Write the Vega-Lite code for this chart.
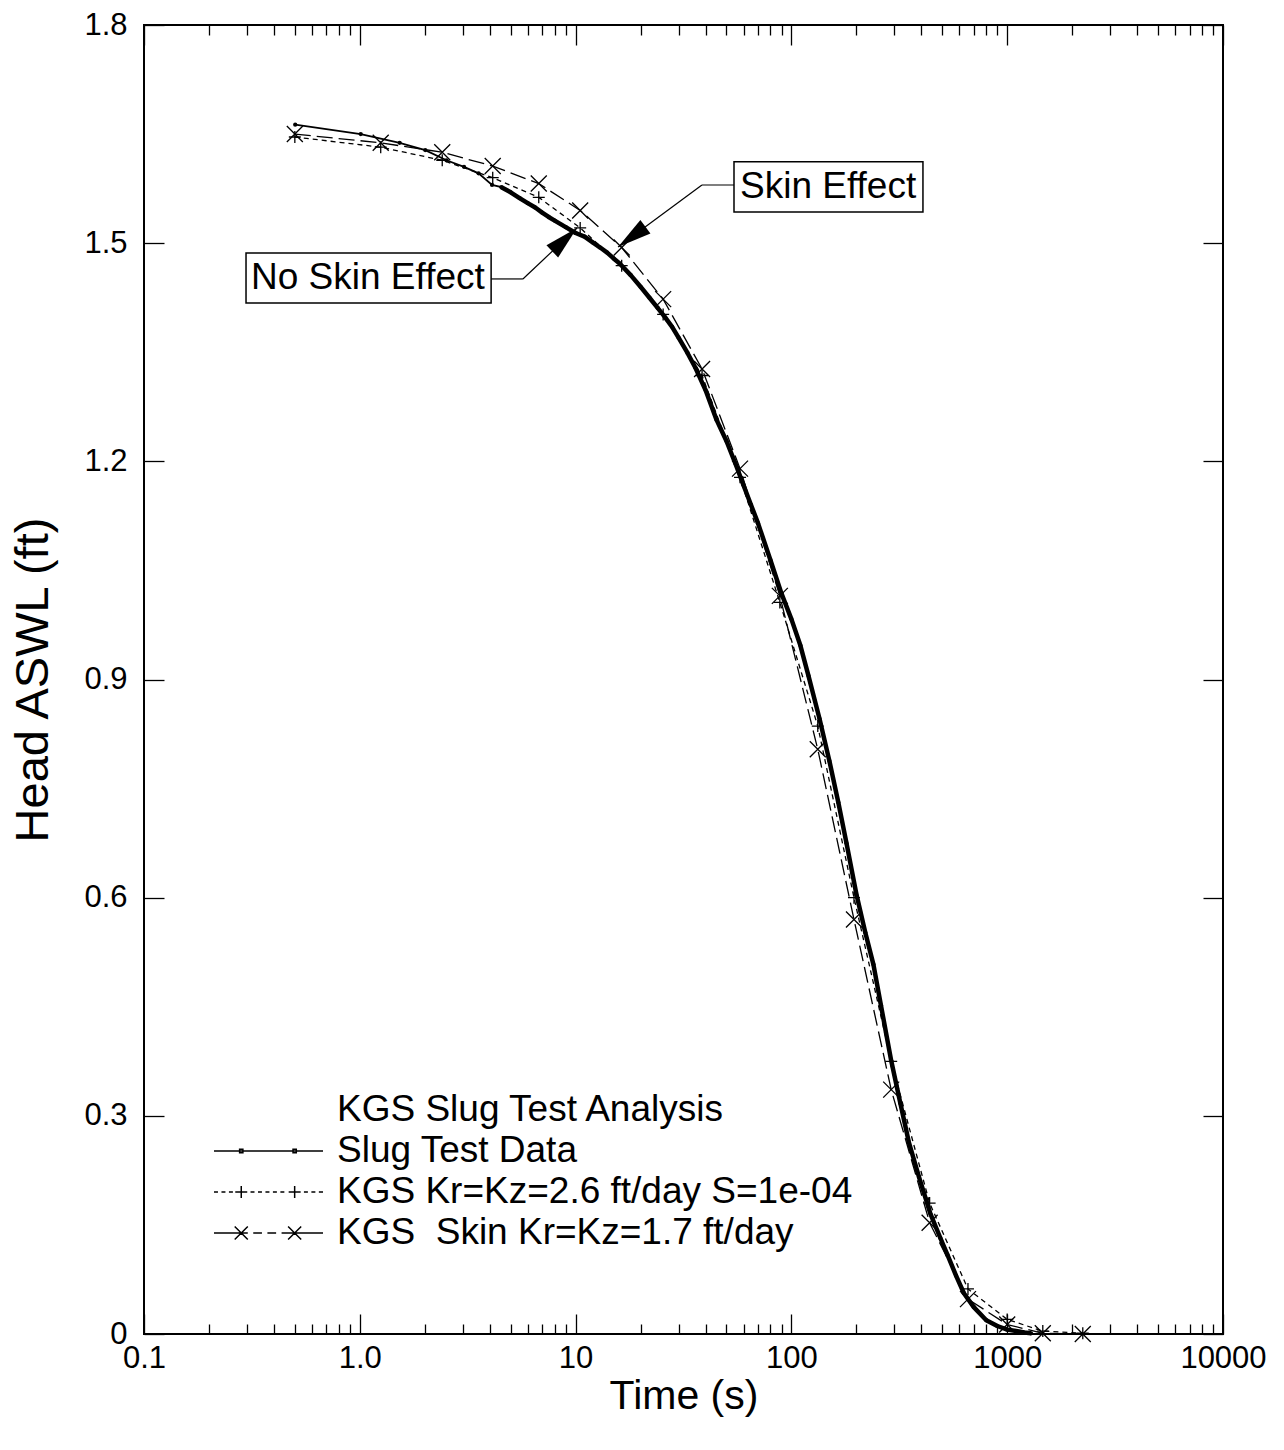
{
  "$schema": "https://vega.github.io/schema/vega-lite/v6.json",
  "width": 1079,
  "height": 1309,
  "autosize": {"type": "none"},
  "padding": {"left": 144, "top": 25, "right": 61, "bottom": 116},
  "background": "white",
  "data": {
    "values": [
      {"series": "Slug Test Data", "t": 0.502, "h": 1.663},
      {"series": "Slug Test Data", "t": 1.01, "h": 1.650},
      {"series": "Slug Test Data", "t": 1.53, "h": 1.638},
      {"series": "Slug Test Data", "t": 2.01, "h": 1.628},
      {"series": "Slug Test Data", "t": 2.52, "h": 1.614},
      {"series": "Slug Test Data", "t": 3.04, "h": 1.605},
      {"series": "Slug Test Data", "t": 3.55, "h": 1.596},
      {"series": "Slug Test Data", "t": 4.1, "h": 1.580},
      {"series": "Slug Test Data", "t": 4.53, "h": 1.577},
      {"series": "Slug Test Data", "t": 5, "h": 1.570},
      {"series": "Slug Test Data", "t": 5.5, "h": 1.562},
      {"series": "Slug Test Data", "t": 6, "h": 1.555},
      {"series": "Slug Test Data", "t": 6.5, "h": 1.549},
      {"series": "Slug Test Data", "t": 7, "h": 1.542},
      {"series": "Slug Test Data", "t": 7.5, "h": 1.536},
      {"series": "Slug Test Data", "t": 8, "h": 1.531},
      {"series": "Slug Test Data", "t": 9, "h": 1.522},
      {"series": "Slug Test Data", "t": 10, "h": 1.514},
      {"series": "Slug Test Data", "t": 11, "h": 1.509},
      {"series": "Slug Test Data", "t": 12, "h": 1.501},
      {"series": "Slug Test Data", "t": 13, "h": 1.494},
      {"series": "Slug Test Data", "t": 14, "h": 1.487},
      {"series": "Slug Test Data", "t": 15, "h": 1.479},
      {"series": "Slug Test Data", "t": 16, "h": 1.472},
      {"series": "Slug Test Data", "t": 18, "h": 1.456},
      {"series": "Slug Test Data", "t": 20, "h": 1.440},
      {"series": "Slug Test Data", "t": 22, "h": 1.425},
      {"series": "Slug Test Data", "t": 24, "h": 1.411},
      {"series": "Slug Test Data", "t": 26, "h": 1.398},
      {"series": "Slug Test Data", "t": 28, "h": 1.385},
      {"series": "Slug Test Data", "t": 30, "h": 1.370},
      {"series": "Slug Test Data", "t": 33, "h": 1.349},
      {"series": "Slug Test Data", "t": 36, "h": 1.328},
      {"series": "Slug Test Data", "t": 40, "h": 1.298},
      {"series": "Slug Test Data", "t": 45, "h": 1.257},
      {"series": "Slug Test Data", "t": 50, "h": 1.228},
      {"series": "Slug Test Data", "t": 55, "h": 1.197},
      {"series": "Slug Test Data", "t": 60, "h": 1.167},
      {"series": "Slug Test Data", "t": 65, "h": 1.140},
      {"series": "Slug Test Data", "t": 70, "h": 1.115},
      {"series": "Slug Test Data", "t": 80, "h": 1.064},
      {"series": "Slug Test Data", "t": 90, "h": 1.018},
      {"series": "Slug Test Data", "t": 100, "h": 0.983},
      {"series": "Slug Test Data", "t": 110, "h": 0.947},
      {"series": "Slug Test Data", "t": 120, "h": 0.905},
      {"series": "Slug Test Data", "t": 135, "h": 0.846},
      {"series": "Slug Test Data", "t": 150, "h": 0.788},
      {"series": "Slug Test Data", "t": 165, "h": 0.731},
      {"series": "Slug Test Data", "t": 180, "h": 0.675},
      {"series": "Slug Test Data", "t": 200, "h": 0.605},
      {"series": "Slug Test Data", "t": 220, "h": 0.552},
      {"series": "Slug Test Data", "t": 240, "h": 0.508},
      {"series": "Slug Test Data", "t": 260, "h": 0.452},
      {"series": "Slug Test Data", "t": 290, "h": 0.376},
      {"series": "Slug Test Data", "t": 320, "h": 0.317},
      {"series": "Slug Test Data", "t": 350, "h": 0.264},
      {"series": "Slug Test Data", "t": 390, "h": 0.216},
      {"series": "Slug Test Data", "t": 440, "h": 0.166},
      {"series": "Slug Test Data", "t": 490, "h": 0.132},
      {"series": "Slug Test Data", "t": 530, "h": 0.108},
      {"series": "Slug Test Data", "t": 580, "h": 0.080},
      {"series": "Slug Test Data", "t": 630, "h": 0.056},
      {"series": "Slug Test Data", "t": 700, "h": 0.037},
      {"series": "Slug Test Data", "t": 800, "h": 0.019},
      {"series": "Slug Test Data", "t": 900, "h": 0.011},
      {"series": "Slug Test Data", "t": 1000, "h": 0.006},
      {"series": "Slug Test Data", "t": 1100, "h": 0.004},
      {"series": "Slug Test Data", "t": 1200, "h": 0.002},
      {"series": "Slug Test Data", "t": 1290, "h": 0.001},
      {"series": "KGS Kr=Kz=2.6 ft/day S=1e-04", "t": 0.5, "h": 1.646},
      {"series": "KGS Kr=Kz=2.6 ft/day S=1e-04", "t": 1.25, "h": 1.632},
      {"series": "KGS Kr=Kz=2.6 ft/day S=1e-04", "t": 2.41, "h": 1.614},
      {"series": "KGS Kr=Kz=2.6 ft/day S=1e-04", "t": 4.13, "h": 1.590},
      {"series": "KGS Kr=Kz=2.6 ft/day S=1e-04", "t": 6.75, "h": 1.563},
      {"series": "KGS Kr=Kz=2.6 ft/day S=1e-04", "t": 10.5, "h": 1.521},
      {"series": "KGS Kr=Kz=2.6 ft/day S=1e-04", "t": 16.35, "h": 1.469},
      {"series": "KGS Kr=Kz=2.6 ft/day S=1e-04", "t": 25.45, "h": 1.402},
      {"series": "KGS Kr=Kz=2.6 ft/day S=1e-04", "t": 38.55, "h": 1.318},
      {"series": "KGS Kr=Kz=2.6 ft/day S=1e-04", "t": 57.8, "h": 1.178},
      {"series": "KGS Kr=Kz=2.6 ft/day S=1e-04", "t": 88.4, "h": 1.006},
      {"series": "KGS Kr=Kz=2.6 ft/day S=1e-04", "t": 132.5, "h": 0.836},
      {"series": "KGS Kr=Kz=2.6 ft/day S=1e-04", "t": 195, "h": 0.600},
      {"series": "KGS Kr=Kz=2.6 ft/day S=1e-04", "t": 290, "h": 0.375},
      {"series": "KGS Kr=Kz=2.6 ft/day S=1e-04", "t": 437, "h": 0.180},
      {"series": "KGS Kr=Kz=2.6 ft/day S=1e-04", "t": 658, "h": 0.062},
      {"series": "KGS Kr=Kz=2.6 ft/day S=1e-04", "t": 1000, "h": 0.020},
      {"series": "KGS Kr=Kz=2.6 ft/day S=1e-04", "t": 1462, "h": 0.004},
      {"series": "KGS Kr=Kz=2.6 ft/day S=1e-04", "t": 2240, "h": 0.001},
      {"series": "KGS\u00a0 Skin Kr=Kz=1.7 ft/day", "t": 0.5, "h": 1.650},
      {"series": "KGS\u00a0 Skin Kr=Kz=1.7 ft/day", "t": 1.25, "h": 1.638},
      {"series": "KGS\u00a0 Skin Kr=Kz=1.7 ft/day", "t": 2.41, "h": 1.625},
      {"series": "KGS\u00a0 Skin Kr=Kz=1.7 ft/day", "t": 4.13, "h": 1.606},
      {"series": "KGS\u00a0 Skin Kr=Kz=1.7 ft/day", "t": 6.75, "h": 1.582},
      {"series": "KGS\u00a0 Skin Kr=Kz=1.7 ft/day", "t": 10.5, "h": 1.545},
      {"series": "KGS\u00a0 Skin Kr=Kz=1.7 ft/day", "t": 16.35, "h": 1.494},
      {"series": "KGS\u00a0 Skin Kr=Kz=1.7 ft/day", "t": 25.45, "h": 1.423},
      {"series": "KGS\u00a0 Skin Kr=Kz=1.7 ft/day", "t": 38.55, "h": 1.327},
      {"series": "KGS\u00a0 Skin Kr=Kz=1.7 ft/day", "t": 57.8, "h": 1.190},
      {"series": "KGS\u00a0 Skin Kr=Kz=1.7 ft/day", "t": 88.4, "h": 1.015},
      {"series": "KGS\u00a0 Skin Kr=Kz=1.7 ft/day", "t": 132.5, "h": 0.804},
      {"series": "KGS\u00a0 Skin Kr=Kz=1.7 ft/day", "t": 195, "h": 0.570},
      {"series": "KGS\u00a0 Skin Kr=Kz=1.7 ft/day", "t": 290, "h": 0.336},
      {"series": "KGS\u00a0 Skin Kr=Kz=1.7 ft/day", "t": 437, "h": 0.153},
      {"series": "KGS\u00a0 Skin Kr=Kz=1.7 ft/day", "t": 658, "h": 0.048},
      {"series": "KGS\u00a0 Skin Kr=Kz=1.7 ft/day", "t": 1000, "h": 0.013},
      {"series": "KGS\u00a0 Skin Kr=Kz=1.7 ft/day", "t": 1462, "h": 0.001},
      {"series": "KGS\u00a0 Skin Kr=Kz=1.7 ft/day", "t": 2240, "h": 0.0}
    ]
  },
  "layer": [
    {
      "transform": [{"filter": {"field": "series", "equal": "Slug Test Data"}}],
      "mark": {"type": "line", "color": "black", "strokeWidth": 1.8},
      "encoding": {
        "x": {"field": "t", "type": "quantitative", "scale": {"type": "log", "domain": [0.1, 10000]},
          "axis": {"orient": "bottom", "values": [0.1, 1, 10, 100, 1000, 10000], "tickSize": -20, "labelPadding": 29, "labelFlush": false, "labelOverlap": false,
            "labelExpr": "datum.value < 0.5 ? '0.1' : datum.value < 5 ? '1.0' : format(datum.value, 'd')", "title": "Time (s)", "titleFontSize": 41, "titlePadding": 3}},
        "y": {"field": "h", "type": "quantitative", "scale": {"domain": [0, 1.8]},
          "axis": {"orient": "left", "values": [0, 0.3, 0.6, 0.9, 1.2, 1.5, 1.8], "tickSize": -20, "labelPadding": 37, "labelFlush": false,
            "labelExpr": "datum.value == 0 ? '0' : format(datum.value, '.1f')", "title": "Head ASWL (ft)", "titleFontSize": 47, "titlePadding": 26}}
      }
    },
    {
      "transform": [{"filter": {"field": "series", "equal": "Slug Test Data"}}],
      "mark": {"type": "point", "shape": "circle", "filled": true, "color": "black", "size": 18, "opacity": 1},
      "encoding": {
        "x": {"field": "t", "type": "quantitative", "axis": {"orient": "top", "values": [0.1, 1, 10, 100, 1000, 10000], "tickSize": -20, "labels": false, "title": null}},
        "y": {"field": "h", "type": "quantitative", "axis": {"orient": "right", "values": [0, 0.3, 0.6, 0.9, 1.2, 1.5, 1.8], "tickSize": -20, "labels": false, "title": null}}
      }
    },
    {
      "transform": [{"filter": {"field": "series", "equal": "KGS Kr=Kz=2.6 ft/day S=1e-04"}}],
      "mark": {"type": "line", "color": "black", "strokeWidth": 1.3, "strokeDash": [5, 4]},
      "encoding": {
        "x": {"field": "t", "type": "quantitative", "axis": {"orient": "bottom", "values": [0.2, 0.3, 0.4, 0.5, 0.6, 0.7, 0.8, 0.9, 2, 3, 4, 5, 6, 7, 8, 9, 20, 30, 40, 50, 60, 70, 80, 90, 200, 300, 400, 500, 600, 700, 800, 900, 2000, 3000, 4000, 5000, 6000, 7000, 8000, 9000], "tickSize": -10, "labels": false, "title": null}},
        "y": {"field": "h", "type": "quantitative", "axis": null}
      }
    },
    {
      "transform": [{"filter": {"field": "series", "equal": "KGS Kr=Kz=2.6 ft/day S=1e-04"}}],
      "mark": {"type": "point", "shape": "M-1,0H1M0,-1V1", "filled": false, "stroke": "black", "strokeWidth": 1.3, "size": 144, "opacity": 1},
      "encoding": {
        "x": {"field": "t", "type": "quantitative", "axis": {"orient": "top", "values": [0.2, 0.3, 0.4, 0.5, 0.6, 0.7, 0.8, 0.9, 2, 3, 4, 5, 6, 7, 8, 9, 20, 30, 40, 50, 60, 70, 80, 90, 200, 300, 400, 500, 600, 700, 800, 900, 2000, 3000, 4000, 5000, 6000, 7000, 8000, 9000], "tickSize": -10, "labels": false, "title": null}},
        "y": {"field": "h", "type": "quantitative", "axis": null}
      }
    },
    {
      "transform": [{"filter": {"field": "series", "equal": "KGS\u00a0 Skin Kr=Kz=1.7 ft/day"}}],
      "mark": {"type": "line", "color": "black", "strokeWidth": 1.3, "strokeDash": [16, 6]},
      "encoding": {
        "x": {"field": "t", "type": "quantitative", "axis": null},
        "y": {"field": "h", "type": "quantitative", "axis": null}
      }
    },
    {
      "transform": [{"filter": {"field": "series", "equal": "KGS\u00a0 Skin Kr=Kz=1.7 ft/day"}}],
      "mark": {"type": "point", "shape": "M-1,-1L1,1M-1,1L1,-1", "filled": false, "stroke": "black", "strokeWidth": 1.3, "size": 256, "opacity": 1},
      "encoding": {
        "x": {"field": "t", "type": "quantitative", "axis": null},
        "y": {"field": "h", "type": "quantitative", "axis": null}
      }
    },
    {
      "transform": [{"filter": {"field": "series", "equal": "Slug Test Data"}}, {"filter": "datum.t >= 4.5"}],
      "mark": {"type": "line", "color": "black", "strokeWidth": 4.5, "strokeJoin": "round"},
      "encoding": {
        "x": {"field": "t", "type": "quantitative", "axis": null},
        "y": {"field": "h", "type": "quantitative", "axis": null}
      }
    },
    {
      "transform": [{"filter": {"field": "series", "equal": "none"}}],
      "mark": {"type": "point", "filled": false, "stroke": "black", "strokeWidth": 1.5, "opacity": 1},
      "encoding": {
        "x": {"field": "t", "type": "quantitative", "axis": null},
        "y": {"field": "h", "type": "quantitative", "axis": null},
        "shape": {"field": "series", "type": "nominal",
          "scale": {
            "domain": ["KGS Slug Test Analysis", "Slug Test Data", "KGS Kr=Kz=2.6 ft/day S=1e-04", "KGS\u00a0 Skin Kr=Kz=1.7 ft/day"],
            "range": [
              "M0,0",
              "M-1,0H1M-0.53,-0.03H-0.47V0.03H-0.53ZM0.45,-0.03H0.51V0.03H0.45Z",
              "M-1,0H-0.927M-0.863,0H-0.79M-0.726,0H-0.653M-0.61,0H-0.39M-0.5,-0.11V0.11M-0.33,0H-0.257M-0.193,0H-0.12M-0.056,0H0.017M0.081,0H0.154M0.218,0H0.291M0.37,0H0.59M0.48,-0.11V0.11M0.65,0H0.723M0.787,0H0.86M0.924,0H1",
              "M-1,0H-0.38M-0.62,-0.12L-0.38,0.12M-0.62,0.12L-0.38,-0.12M-0.28,0H-0.12M-0.02,0H0.14M0.24,0H0.36M0.36,-0.12L0.6,0.12M0.36,0.12L0.6,-0.12M0.36,0H1"
            ]
          },
          "legend": {
            "orient": "none", "legendX": 69, "legendY": 1064.5, "title": null, "padding": 0,
            "symbolSize": 11881, "symbolStrokeWidth": 1.5, "symbolStrokeColor": "black", "symbolOpacity": 1, "symbolOffset": 0,
            "labelFont": "Liberation Sans", "labelFontSize": 37, "labelColor": "black", "labelLimit": 0, "labelOffset": 13,
            "clipHeight": 41, "rowPadding": 0
          }
        }
      }
    },
    {
      "data": {"values": [{"note": "Skin Effect"}]},
      "layer": [
        {
          "mark": {"type": "rule", "color": "black", "strokeWidth": 1.2},
          "encoding": {
            "x": {"datum": 54.2, "type": "quantitative", "axis": null},
            "x2": {"datum": 38.5},
            "y": {"datum": 1.580, "type": "quantitative", "axis": null},
            "y2": {"datum": 1.580}
          }
        },
        {
          "mark": {"type": "rule", "color": "black", "strokeWidth": 1.2},
          "encoding": {
            "x": {"datum": 38.5, "type": "quantitative", "axis": null},
            "x2": {"datum": 15.73},
            "y": {"datum": 1.580, "type": "quantitative", "axis": null},
            "y2": {"datum": 1.4948}
          }
        },
        {
          "mark": {"type": "point", "shape": "M0,0L0.25,1L-0.25,1Z", "filled": true, "color": "black", "size": 4624, "angle": 233.6, "opacity": 1},
          "encoding": {
            "x": {"datum": 15.73, "type": "quantitative", "axis": null},
            "y": {"datum": 1.4948, "type": "quantitative", "axis": null}
          }
        },
        {
          "mark": {"type": "rect", "fill": "white", "stroke": "black", "strokeWidth": 1.5},
          "encoding": {
            "x": {"datum": 54.2, "type": "quantitative", "axis": null},
            "x2": {"datum": 407},
            "y": {"datum": 1.612, "type": "quantitative", "axis": null},
            "y2": {"datum": 1.543}
          }
        },
        {
          "mark": {"type": "text", "font": "Liberation Sans", "fontSize": 37, "color": "black", "align": "center", "baseline": "middle"},
          "encoding": {
            "x": {"datum": 148, "type": "quantitative", "axis": null},
            "y": {"datum": 1.577, "type": "quantitative", "axis": null},
            "text": {"field": "note"}
          }
        }
      ]
    },
    {
      "data": {"values": [{"note": "No Skin Effect"}]},
      "layer": [
        {
          "mark": {"type": "rule", "color": "black", "strokeWidth": 1.2},
          "encoding": {
            "x": {"datum": 4.06, "type": "quantitative", "axis": null},
            "x2": {"datum": 5.70},
            "y": {"datum": 1.4508, "type": "quantitative", "axis": null},
            "y2": {"datum": 1.4508}
          }
        },
        {
          "mark": {"type": "rule", "color": "black", "strokeWidth": 1.2},
          "encoding": {
            "x": {"datum": 5.70, "type": "quantitative", "axis": null},
            "x2": {"datum": 10.15},
            "y": {"datum": 1.4508, "type": "quantitative", "axis": null},
            "y2": {"datum": 1.5209}
          }
        },
        {
          "mark": {"type": "point", "shape": "M0,0L0.25,1L-0.25,1Z", "filled": true, "color": "black", "size": 4624, "angle": 46.6, "opacity": 1},
          "encoding": {
            "x": {"datum": 10.15, "type": "quantitative", "axis": null},
            "y": {"datum": 1.5209, "type": "quantitative", "axis": null}
          }
        },
        {
          "mark": {"type": "rect", "fill": "white", "stroke": "black", "strokeWidth": 1.5},
          "encoding": {
            "x": {"datum": 0.297, "type": "quantitative", "axis": null},
            "x2": {"datum": 4.06},
            "y": {"datum": 1.4865, "type": "quantitative", "axis": null},
            "y2": {"datum": 1.4178}
          }
        },
        {
          "mark": {"type": "text", "font": "Liberation Sans", "fontSize": 37, "color": "black", "align": "center", "baseline": "middle"},
          "encoding": {
            "x": {"datum": 1.09, "type": "quantitative", "axis": null},
            "y": {"datum": 1.452, "type": "quantitative", "axis": null},
            "text": {"field": "note"}
          }
        }
      ]
    }
  ],
  "resolve": {"axis": {"x": "independent", "y": "independent"}},
  "config": {
    "font": "Liberation Sans",
    "view": {"stroke": "black", "strokeWidth": 2},
    "axis": {
      "labelFont": "Liberation Sans", "labelFontSize": 31, "labelColor": "black",
      "titleFont": "Liberation Sans", "titleFontSize": 35, "titleFontWeight": "normal", "titleColor": "black",
      "tickColor": "black", "tickWidth": 1.3, "domain": false, "grid": false
    }
  }
}
